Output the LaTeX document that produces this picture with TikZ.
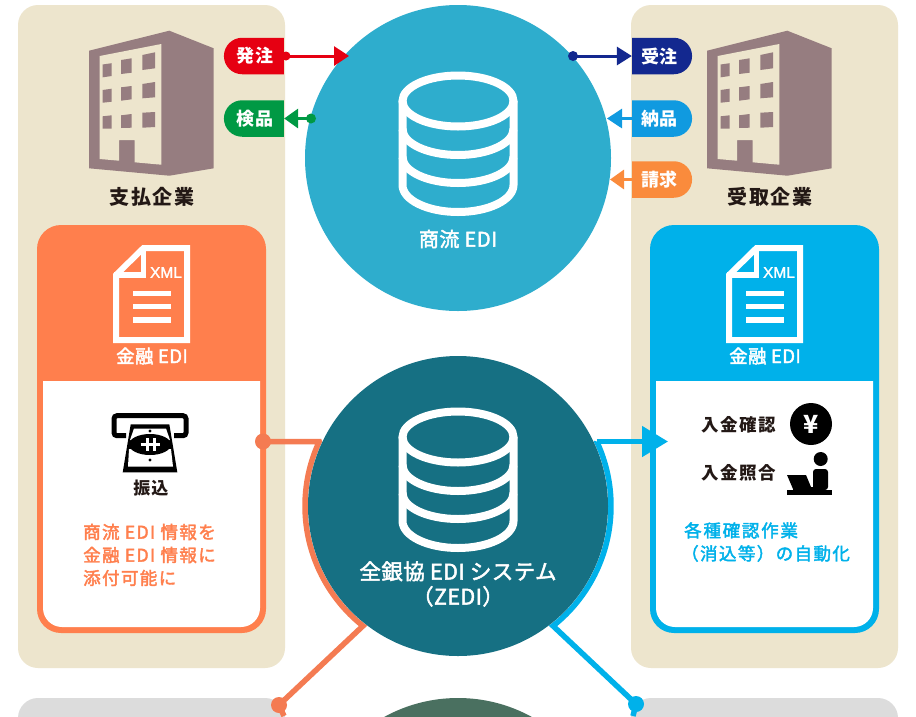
\documentclass[tikz,border=0pt]{standalone}
\usepackage{fontspec}
\usetikzlibrary{arrows.meta,shapes.misc}
\setmainfont{Noto Sans CJK JP}
\newfontfamily\jpm[FakeBold=2.2]{Noto Sans CJK JP}
\newfontfamily\xmlfont[FakeBold=1.5]{Liberation Sans}
\definecolor{panelc}{HTML}{EDE5CD}
\definecolor{greyc}{HTML}{DCDCDC}
\definecolor{bldc}{HTML}{967D80}
\definecolor{topc}{HTML}{2EADCD}
\definecolor{midc}{HTML}{167083}
\definecolor{botc}{HTML}{4A7060}
\definecolor{orc}{HTML}{FF7F4D}
\definecolor{orl}{HTML}{F47B52}
\definecolor{cyc}{HTML}{00B1EA}
\definecolor{redc}{HTML}{E60012}
\definecolor{grnc}{HTML}{009944}
\definecolor{navc}{HTML}{13288F}
\definecolor{bluc}{HTML}{109AE0}
\definecolor{ambc}{HTML}{FA8B3C}
\definecolor{inkc}{HTML}{231815}
\tikzset{
  pillbase/.style={rounded rectangle,minimum width=60pt,minimum height=36.5pt,inner sep=0pt,
    text=white,font=\fontsize{18}{20}\selectfont\bfseries\addfontfeature{LetterSpace=3}},
  pilll/.style={pillbase,rounded rectangle east arc=none,fill=#1},
  pillr/.style={pillbase,rounded rectangle west arc=none,fill=#1},
  conn/.style={draw=#1,line width=3pt},
  dotn/.style={circle,fill=#1,inner sep=0pt,minimum size=10pt},
  company/.style={text=inkc,font=\fontsize{20}{22}\selectfont\bfseries\addfontfeature{LetterSpace=9}},
  white label/.style={text=white,font=\fontsize{18.5}{20}\selectfont\jpm\addfontfeature{LetterSpace=2}},
  ink label/.style={text=inkc,font=\fontsize{17.5}{20}\selectfont\bfseries\addfontfeature{LetterSpace=9}},
  note/.style={align=left,anchor=west,inner sep=0pt,text=#1,
    font=\fontsize{17.5}{23}\selectfont\jpm\addfontfeature{LetterSpace=8}},
}
\newcommand{\building}[1]{%
 \begin{scope}[xshift=#1pt]
  \fill[bldc] (89,50.7)--(169.3,30.7)--(213.7,48.3)--(213.7,168.3)--(169.3,175.7)--(89,168.3)--cycle;
  \fill[panelc] (99.7,56)--(161.3,44)--(161.3,164.7)--(134.7,162.3)--(134.7,140)--(119,140)--(119,160.7)--(99.7,159)--cycle;
  \fill[bldc] (102.7,64.5)--(111.7,63.2)--(111.7,76)--(102.7,77.3)--cycle;
  \fill[bldc] (121,60)--(131.7,58.3)--(131.7,72.7)--(121,74)--cycle;
  \fill[bldc] (142.3,55)--(155,52.3)--(155,68.3)--(142.3,70)--cycle;
  \fill[bldc] (102.7,90)--(111.7,88.7)--(111.7,101.7)--(102.7,102.7)--cycle;
  \fill[bldc] (121,87.3)--(131.7,86)--(131.7,99.3)--(121,100.7)--cycle;
  \fill[bldc] (142.3,84)--(155,82)--(155,97.3)--(142.3,98.3)--cycle;
  \fill[bldc] (102.7,116.3)--(111.7,115.3)--(111.7,128.7)--(102.7,128.7)--cycle;
  \fill[bldc] (121,115.3)--(131.7,114)--(131.7,127.7)--(121,128)--cycle;
  \fill[bldc] (142.3,112.7)--(155,112)--(155,127)--(142.3,127.7)--cycle;
 \end{scope}}
\newcommand{\dbicon}[1]{%
 \begin{scope}[yshift=#1pt]
  \draw[white,line width=8pt] (458,437) ellipse [x radius=55.5,y radius=25.5];
  \draw[white,line width=8pt,line cap=butt] (402.5,437) -- (402.5,521) arc[start angle=180,end angle=0,x radius=55.5,y radius=27] -- (513.5,437);
  \draw[white,line width=8pt] (402.5,465) arc[start angle=180,end angle=0,x radius=55.5,y radius=26];
  \draw[white,line width=8pt] (402.5,493) arc[start angle=180,end angle=0,x radius=55.5,y radius=26];
 \end{scope}}
\newcommand{\docicon}[1]{%
 \begin{scope}[xshift=#1pt]
  \draw[white,line width=6pt,miter limit=10] (143.5,248) -- (187,248) -- (187,340) -- (116,340) -- (116,275) -- cycle;
  \draw[white,line width=5.5pt] (143.5,246) -- (143.5,275) -- (114,275);
  \fill[white] (133,291) rectangle (171,296);
  \fill[white] (133,304) rectangle (171,309);
  \fill[white] (133,317) rectangle (171,322.5);
  \node[inner sep=0pt,text=white] at (166,272.5) {\xmlfont\fontsize{15.5}{16}\selectfont XML};
 \end{scope}}
\newcommand{\bigbox}[2]{%
 \begin{scope}[xshift=#1pt]
  \fill[#2,rounded corners=24pt] (37,225) rectangle (266,633);
  \fill[white] (43,381) -- (260,381) [rounded corners=19pt] -- (260,627) -- (43,627) [sharp corners] -- cycle;
 \end{scope}}
\begin{document}
\begin{tikzpicture}[x=1pt,y=-1pt]
\useasboundingbox (0,0) rectangle (916,716);
\clip (0,0) rectangle (916,716);
\fill[white] (0,0) rectangle (916,716);
% panels
\fill[panelc,rounded corners=20pt] (18,5) rectangle (285,668);
\fill[panelc,rounded corners=20pt] (631,5) rectangle (898,668);
\fill[greyc,rounded corners=20pt] (18,698) rectangle (285,760);
\fill[greyc,rounded corners=20pt] (631,698) rectangle (898,760);
% buildings
\building{0}
\building{618}
\node[company] (payer) at (152,196.5) {支払企業};
\node[company] (payee) at (770,196.5) {受取企業};
% boxes
\bigbox{0}{orc}
\bigbox{613}{cyc}
\docicon{0}
\docicon{613}
\node[white label] (finl) at (152,356) {金融 EDI};
\node[white label] (finr) at (765,356) {金融 EDI};
% circles
\fill[botc] (458,851) circle (153);
\node[circle,fill=topc,minimum size=306pt,inner sep=0pt] (topcirc) at (458,158) {};
% connectors at top
\node[pilll=redc] (hachu) at (255,56) {発注};
\node[pilll=grnc] (kenpin) at (255,118.5) {検品};
\node[pillr=navc] (juchu) at (661,56) {\kern-3pt 受注};
\node[pillr=bluc] (nohin) at (661,118.5) {\kern-3pt 納品};
\node[pillr=ambc] (seikyu) at (661,179.5) {\kern-3pt 請求};
\coordinate (hachuTip) at (349,56);
\coordinate (nohinTip) at (607,118.5);
\coordinate (seikyuTip) at (610,179.5);
\node[dotn=redc,minimum size=9pt] (hachuDot) at (286,56) {};
\node[dotn=grnc] (kenpinDot) at (311,118.5) {};
\node[dotn=navc] (juchuDot) at (573,56) {};
\draw[conn=redc,-{Triangle[length=15pt,width=19pt,fill=redc]}] (hachuDot.center) -- (hachuTip);
\draw[conn=grnc,-{Triangle[length=14pt,width=19pt,fill=grnc]}] (kenpinDot.center) -- (kenpin.east);
\draw[conn=navc,-{Triangle[length=15pt,width=18pt,fill=navc]}] (juchuDot.center) -- (juchu.west);
\draw[conn=bluc,-{Triangle[length=15pt,width=19pt,fill=bluc]}] (nohin.west) -- (nohinTip);
\draw[conn=ambc,-{Triangle[length=14pt,width=19pt,fill=ambc]}] (seikyu.west) -- (seikyuTip);
% db icons
\dbicon{336}
\node[text=white,font=\fontsize{20}{22}\selectfont\jpm\addfontfeature{LetterSpace=3}] (shoryu) at (458,239) {商流 EDI};
% mid connectors
\coordinate (orA) at (319.2,441.5);
\coordinate (cyA) at (596.8,441.5);
\coordinate (cyTip) at (668,441.5);
\node[circle,fill=orl,inner sep=0pt,minimum size=16pt] (orDot) at (263,441.5) {};
\node[circle,fill=orl,inner sep=0pt,minimum size=16pt] (orDot2) at (279,705) {};
\node[circle,fill=cyc,inner sep=0pt,minimum size=16pt] (cyDot2) at (636,704) {};
\coordinate (orEnd) at (284,716);
\coordinate (cyEnd) at (633,716);
\draw[orl,line width=5.5pt] (orDot.center) -- (orA)
  -- plot[domain=204.9:128.4,samples=60] ({458+153*cos(\x)},{506+153*sin(\x)})
  -- (orDot2.center) -- (orEnd);
\draw[cyc,line width=5.5pt] (cyEnd) -- (cyDot2.center)
  -- plot[domain=51.6:-24.9,samples=60] ({458+153*cos(\x)},{506+153*sin(\x)})
  -- (cyA);
\draw[cyc,line width=5pt,-{Triangle[length=26pt,width=30pt,fill=cyc]}] (cyA) -- (cyTip);
\node[circle,fill=midc,minimum size=300pt,inner sep=0pt] (midcirc) at (458,506) {};
\dbicon{0}
\node[text=white,align=center,font=\fontsize{21.5}{25}\selectfont\jpm\addfontfeature{LetterSpace=2}] (zedi) at (458,584) {全銀協 EDI システム\\（ZEDI）};
% ATM icon
\draw[black,line width=5pt,rounded corners=3pt] (126,435.7) -- (114,435.7) -- (114,415.7) -- (186,415.7) -- (186,435.7) -- (174,435.7);
\fill[black] (130.7,424.3) -- (169.3,424.3) -- (177.3,472.3) -- (122.7,472.3) -- cycle;
\fill[white] (134,428.5) -- (166,428.5) -- (170,440) -- (130,440) -- cycle;
\fill[white] (129,449) -- (171,449) -- (173,466.5) -- (128,466.5) -- cycle;
\fill[black] (150,444.5) ellipse [x radius=21,y radius=10.5];
\fill[black] (150,431) circle (1.7);
\fill[black] (150,460) circle (1.7);
\draw[white,line width=3pt] (140.5,444.5) -- (159.5,444.5) (147,438) -- (147,451) (154,438) -- (154,451);
\node[ink label,font=\fontsize{17}{20}\selectfont\bfseries\addfontfeature{LetterSpace=6}] (furikomi) at (151,488) {振込};
\node[note=orc] (orNote) at (83,555) {商流 EDI 情報を\\金融 EDI 情報に\\添付可能に};
% right side
\node[ink label,anchor=west,inner sep=0pt] (kakunin) at (701,425) {入金確認};
\node[ink label,anchor=west,inner sep=0pt] (shogo) at (701,473) {入金照合};
\node[circle,fill=black,minimum size=42pt,inner sep=0pt,text=white,font=\fontsize{25}{26}\selectfont\bfseries] (yen) at (811,424) {¥};
\fill[black] (820.7,459) circle (7);
\fill[black,rounded corners=3pt] (813,490) -- (813,469) -- (828,469) -- (828,490) -- cycle;
\fill[black] (787,475) -- (806,475) -- (811,487) -- (793,489) -- cycle;
\fill[black] (787,490) rectangle (832,494.5);
\fill[black] (793,487) rectangle (816,490);
\node[note=cyc] (cyNote) at (684,542) {{\addfontfeature{LetterSpace=10}各種確認作業}\\\hspace*{-3pt}（消込等）の自動化};
\end{tikzpicture}
\end{document}
